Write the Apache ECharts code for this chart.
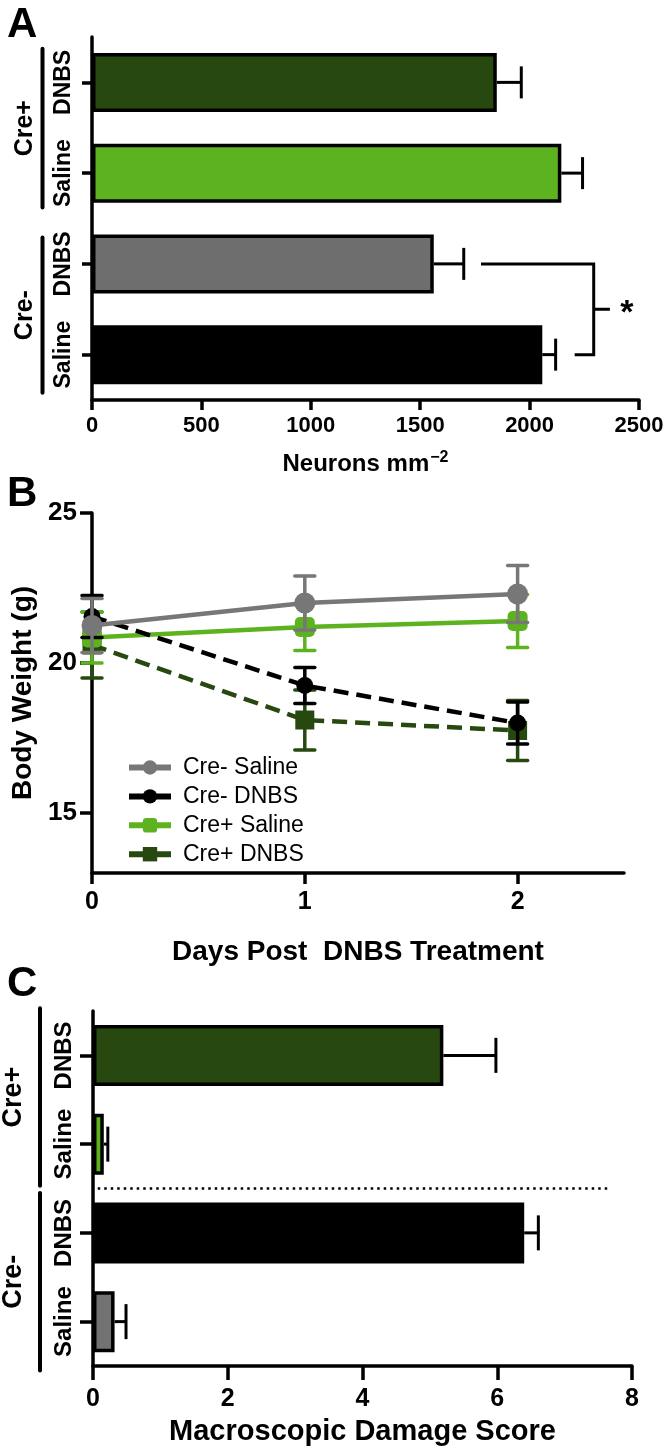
<!DOCTYPE html>
<html>
<head>
<meta charset="utf-8">
<script src="https://cdn.jsdelivr.net/npm/echarts@6/dist/echarts.min.js"></script>
<style>
html,body{margin:0;padding:0;background:#fff;}
#chart{width:663px;height:1448px;}
</style>
</head>
<body>
<div id="chart"></div>
<script>
// ---------- DATA ----------
// Panel A: neuron density
const groupCats = ['Cre+ DNBS', 'Cre+ Saline', 'Cre- DNBS', 'Cre- Saline'];
const neuronMean = [1850, 2145, 1562, 2058];
const neuronSem = [112, 97, 137, 61];
const neuronTicks = [0, 500, 1000, 1500, 2000, 2500];

// Panel B: body weight
const days = [0, 1, 2];
const weightTicks = [15, 20, 25];
const bwCreMinusSaline = [21.25, 22.0, 22.3];
const bwCreMinusSalineSem = [0.9, 0.9, 0.95];
const bwCreMinusDNBS = [21.55, 19.25, 18.0];
const bwCreMinusDNBSSem = [0.7, 0.6, 0.7];
const bwCrePlusSaline = [20.85, 21.2, 21.4];
const bwCrePlusSalineSem = [0.85, 0.78, 0.88];
const bwCrePlusDNBS = [20.6, 18.1, 17.75];
const bwCrePlusDNBSSem = [1.1, 1.0, 1.0];

// Panel C: macroscopic damage score
const damageMean = [5.2, 0.16, 6.4, 0.32];
const damageSem = [0.78, 0.06, 0.21, 0.17];
const damageTicks = [0, 2, 4, 6, 8];

// ---------- STYLE ----------
const FONT = 'Liberation Sans, Arial, Helvetica, sans-serif';
const DKGREEN = '#27490f';
const LTGREEN = '#5cb31f';
const GREY = '#6e6e6e';
const GREY_LINE = '#777777';
const colorsA = [DKGREEN, LTGREEN, GREY, '#000000'];
const colorsC = [DKGREEN, LTGREEN, '#000000', '#727272'];

const chart = echarts.init(document.getElementById('chart'), null, {renderer: 'canvas'});

function catLabel(v) { return v.split(' ')[1]; }
function plainNum(v) { return String(v); }

function hErrSeries(xIdx, yIdx, mean, sem, cap) {
  return {
    type: 'custom', name: 'errH' + xIdx, xAxisIndex: xIdx, yAxisIndex: yIdx, z: 1,
    data: mean.map((m, i) => [m, i, sem[i]]),
    renderItem: function (params, api) {
      const m = api.value(0), c = api.value(1), e = api.value(2);
      const p0 = api.coord([m, c]);
      const p1 = api.coord([m + e, c]);
      return {type: 'group', children: [
        {type: 'line', shape: {x1: p0[0], y1: p0[1], x2: p1[0], y2: p1[1]}, style: {stroke: '#000', lineWidth: 3}},
        {type: 'line', shape: {x1: p1[0], y1: p1[1] - cap / 2, x2: p1[0], y2: p1[1] + cap / 2}, style: {stroke: '#000', lineWidth: 3}}
      ]};
    }
  };
}

function vErrSeries(name, vals, sem, color, z) {
  return {
    type: 'custom', name: name, xAxisIndex: 1, yAxisIndex: 1, z: z,
    data: vals.map((v, i) => [days[i], v, sem[i]]),
    renderItem: function (params, api) {
      const x = api.value(0), v = api.value(1), e = api.value(2);
      const pt = api.coord([x, v + e]);
      const pb = api.coord([x, v - e]);
      const w = 10;
      return {type: 'group', children: [
        {type: 'line', shape: {x1: pt[0], y1: pt[1], x2: pb[0], y2: pb[1]}, style: {stroke: color, lineWidth: 3.5}},
        {type: 'line', shape: {x1: pt[0] - w, y1: pt[1], x2: pt[0] + w, y2: pt[1]}, style: {stroke: color, lineWidth: 3.5, lineCap: 'round'}},
        {type: 'line', shape: {x1: pb[0] - w, y1: pb[1], x2: pb[0] + w, y2: pb[1]}, style: {stroke: color, lineWidth: 3.5, lineCap: 'round'}}
      ]};
    }
  };
}

function lineSeries(name, vals, color, dashed, symbol, size, z) {
  return {
    type: 'line', name: name, xAxisIndex: 1, yAxisIndex: 1, z: z,
    data: vals.map((v, i) => [days[i], v]),
    symbol: symbol, symbolSize: size,
    lineStyle: {color: color, width: 4.5, type: dashed ? [15, 8] : 'solid'},
    itemStyle: {color: color, borderWidth: 0},
    emphasis: {disabled: true},
    animation: false
  };
}

const axisLineStyle = {show: true, lineStyle: {color: '#000', width: 3.5}};
const tickStyle = (len) => ({show: true, length: len, lineStyle: {color: '#000', width: 3.5}});

const option = {
  backgroundColor: '#fff',
  animation: false,
  grid: [
    {left: 92, top: 37, width: 547, height: 363, outerBoundsMode: 'none', containLabel: false},
    {left: 92, top: 513, width: 532, height: 360, outerBoundsMode: 'none', containLabel: false},
    {left: 93, top: 1011, width: 539, height: 355, outerBoundsMode: 'none', containLabel: false}
  ],
  xAxis: [
    {
      gridIndex: 0, type: 'value', min: neuronTicks[0], max: neuronTicks[neuronTicks.length - 1], interval: 500,
      axisLine: axisLineStyle, axisTick: tickStyle(10), splitLine: {show: false},
      axisLabel: {margin: 15, fontSize: 22, fontWeight: 'bold', color: '#000', fontFamily: FONT, formatter: plainNum},
      name: '{a|Neurons mm}{b|−2}', nameLocation: 'middle', nameGap: 50,
      nameTextStyle: {color: '#000', fontFamily: FONT, rich: {
        a: {fontSize: 24, fontWeight: 'bold', color: '#000', fontFamily: FONT, lineHeight: 26, verticalAlign: 'bottom'},
        b: {fontSize: 16, fontWeight: 'bold', color: '#000', fontFamily: FONT, lineHeight: 26, verticalAlign: 'top', padding: [0, 0, 10, 1]}
      }}
    },
    {
      gridIndex: 1, type: 'value', min: 0, max: 2.5, interval: 1,
      axisLine: axisLineStyle,
      axisTick: Object.assign(tickStyle(11), {customValues: days}),
      splitLine: {show: false},
      axisLabel: {customValues: days, margin: 17, fontSize: 25, fontWeight: 'bold', color: '#000', fontFamily: FONT,
        formatter: v => (Number.isInteger(v) ? String(v) : '')},
      name: 'Days Post  DNBS Treatment', nameLocation: 'middle', nameGap: 65,
      nameTextStyle: {fontSize: 28, fontWeight: 'bold', color: '#000', fontFamily: FONT}
    },
    {
      gridIndex: 2, type: 'value', min: damageTicks[0], max: damageTicks[damageTicks.length - 1], interval: 2,
      axisLine: axisLineStyle, axisTick: tickStyle(14), splitLine: {show: false},
      axisLabel: {margin: 21, fontSize: 25, fontWeight: 'bold', color: '#000', fontFamily: FONT, formatter: plainNum},
      name: 'Macroscopic Damage Score', nameLocation: 'middle', nameGap: 51,
      nameTextStyle: {fontSize: 29, fontWeight: 'bold', color: '#000', fontFamily: FONT}
    }
  ],
  yAxis: [
    {
      gridIndex: 0, type: 'category', data: groupCats, inverse: true,
      axisLine: axisLineStyle, axisTick: Object.assign(tickStyle(10), {alignWithLabel: true}),
      splitLine: {show: false},
      axisLabel: {interval: 0, hideOverlap: false, rotate: 90, margin: 17, fontSize: 23, fontWeight: 'bold', color: '#000', fontFamily: FONT, formatter: catLabel}
    },
    {
      gridIndex: 1, type: 'value', min: 13, max: 25,
      axisLine: axisLineStyle,
      axisTick: Object.assign(tickStyle(12), {customValues: weightTicks}),
      splitLine: {show: false},
      axisLabel: {customValues: weightTicks, margin: 15, fontSize: 26, fontWeight: 'bold', color: '#000', fontFamily: FONT},
      name: 'Body Weight (g)', nameLocation: 'middle', nameGap: 52,
      nameTextStyle: {fontSize: 28, fontWeight: 'bold', color: '#000', fontFamily: FONT}
    },
    {
      gridIndex: 2, type: 'category', data: groupCats, inverse: true,
      axisLine: axisLineStyle, axisTick: Object.assign(tickStyle(13), {alignWithLabel: true}),
      splitLine: {show: false},
      axisLabel: {interval: 0, hideOverlap: false, rotate: 90, margin: 17, fontSize: 24, fontWeight: 'bold', color: '#000', fontFamily: FONT, formatter: catLabel}
    }
  ],
  legend: {
    data: ['Cre- Saline', 'Cre- DNBS', 'Cre+ Saline', 'Cre+ DNBS'],
    orient: 'vertical', left: 121, top: 751,
    itemWidth: 42, itemHeight: 18, itemGap: 5.9,
    selectedMode: false,
    lineStyle: {type: 'solid', width: 6},
    textStyle: {fontSize: 23, color: '#000', fontFamily: FONT, lineHeight: 18, padding: [0, 0, 0, 7]}
  },
  series: [
    // Panel A
    hErrSeries(0, 0, neuronMean, neuronSem, 32),
    {
      type: 'bar', name: 'neurons', xAxisIndex: 0, yAxisIndex: 0, barWidth: 59, z: 2,
      data: neuronMean.map((v, i) => ({value: v, itemStyle: {color: colorsA[i]}})),
      itemStyle: {borderColor: '#000', borderWidth: 3.5}
    },
    {
      type: 'custom', name: 'bracket', xAxisIndex: 0, yAxisIndex: 0, z: 3,
      data: [[1778, 2293, 2206, 2367, 2445]],
      renderItem: function (params, api) {
        const yTop = api.coord([0, 2])[1];
        const yBot = api.coord([0, 3])[1];
        const xL = api.coord([api.value(0), 2])[0];
        const xV = api.coord([api.value(1), 2])[0];
        const xB = api.coord([api.value(2), 2])[0];
        const xT = api.coord([api.value(3), 2])[0];
        const xS = api.coord([api.value(4), 2])[0];
        const yMid = (yTop + yBot) / 2;
        return {type: 'group', children: [
          {type: 'polyline', shape: {points: [[xL, yTop], [xV, yTop], [xV, yBot], [xB, yBot]]}, style: {stroke: '#000', lineWidth: 3, fill: null}},
          {type: 'line', shape: {x1: xV, y1: yMid, x2: xT, y2: yMid}, style: {stroke: '#000', lineWidth: 3}},
          {type: 'text', x: xS, y: yMid + 4, style: {text: '*', fontSize: 34, fontWeight: 'bold', fontFamily: FONT, fill: '#000', align: 'center', verticalAlign: 'middle'}}
        ]};
      }
    },
    // Panel B
    vErrSeries('errCPD', bwCrePlusDNBS, bwCrePlusDNBSSem, DKGREEN, 2),
    lineSeries('Cre+ DNBS', bwCrePlusDNBS, DKGREEN, true, 'rect', 19, 3),
    vErrSeries('errCPS', bwCrePlusSaline, bwCrePlusSalineSem, LTGREEN, 4),
    lineSeries('Cre+ Saline', bwCrePlusSaline, LTGREEN, false, 'roundRect', 20, 5),
    vErrSeries('errCMD', bwCreMinusDNBS, bwCreMinusDNBSSem, '#000', 6),
    lineSeries('Cre- DNBS', bwCreMinusDNBS, '#000', true, 'circle', 17, 7),
    vErrSeries('errCMS', bwCreMinusSaline, bwCreMinusSalineSem, GREY_LINE, 8),
    lineSeries('Cre- Saline', bwCreMinusSaline, GREY_LINE, false, 'circle', 21, 9),
    // Panel C
    hErrSeries(2, 2, damageMean, damageSem, 35),
    {
      type: 'bar', name: 'damage', xAxisIndex: 2, yAxisIndex: 2, barWidth: 61, z: 2,
      data: damageMean.map((v, i) => ({value: v, itemStyle: {color: colorsC[i]}})),
      itemStyle: {borderColor: '#000', borderWidth: 3.5}
    },
    {
      type: 'custom', name: 'divider', xAxisIndex: 2, yAxisIndex: 2, z: 3,
      data: [[0.07, 7.68]],
      renderItem: function (params, api) {
        const y = (api.coord([0, 1])[1] + api.coord([0, 2])[1]) / 2;
        const x1 = api.coord([api.value(0), 1])[0];
        const x2 = api.coord([api.value(1), 1])[0];
        return {type: 'line', shape: {x1: x1, y1: y, x2: x2, y2: y}, style: {stroke: '#000', lineWidth: 2.5, lineDash: [2.5, 4]}};
      }
    }
  ]
};

chart.setOption(option);

// group labels & brackets left of the category axes
// ext: [[top inset of Cre+, bottom inset of Cre+], [top inset of Cre-, bottom inset of Cre-]] in band widths
function groupGraphics(yAxisIndex, xLine, xText, ext, fontSize) {
  const out = [];
  const c = groupCats.map((_, i) => chart.convertToPixel({yAxisIndex: yAxisIndex}, i));
  const bw = Math.abs(c[1] - c[0]);
  const groups = [['Cre+', 0, 1], ['Cre-', 2, 3]];
  groups.forEach((g, k) => {
    const y1 = c[g[1]] - bw * ext[k][0];
    const y2 = c[g[2]] + bw * ext[k][1];
    out.push({type: 'line', shape: {x1: xLine, y1: y1, x2: xLine, y2: y2}, style: {stroke: '#000', lineWidth: 4, lineCap: 'round'}, silent: true});
    out.push({type: 'text', x: xText, y: (y1 + y2) / 2, rotation: Math.PI / 2,
      style: {text: g[0], fontSize: fontSize, fontWeight: 'bold', fontFamily: FONT, fill: '#000', align: 'center', verticalAlign: 'middle'}, silent: true});
  });
  return out;
}

const graphics = []
  .concat(groupGraphics(0, 42.5, 25, [[0.37, 0.38], [0.29, 0.42]], 25))
  .concat(groupGraphics(2, 40, 14, [[0.53, 0.47], [0.45, 0.55]], 27))
  .concat([
    {type: 'text', left: 7, top: 4, style: {text: 'A', fontSize: 42, fontWeight: 'bold', fontFamily: FONT, fill: '#000'}},
    {type: 'text', left: 7, top: 473, style: {text: 'B', fontSize: 42, fontWeight: 'bold', fontFamily: FONT, fill: '#000'}},
    {type: 'text', left: 7, top: 963, style: {text: 'C', fontSize: 42, fontWeight: 'bold', fontFamily: FONT, fill: '#000'}}
  ]);

chart.setOption({graphic: graphics});
</script>
</body>
</html>
